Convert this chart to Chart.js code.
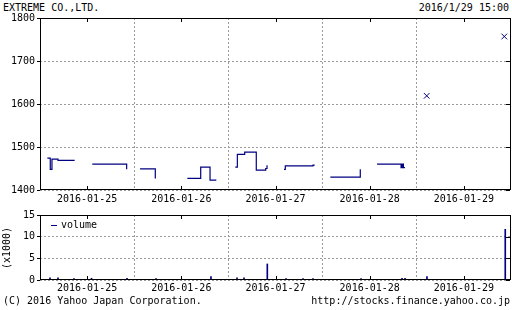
<!DOCTYPE html>
<html><head><meta charset="utf-8">
<script src="https://cdn.jsdelivr.net/npm/chart.js@4/dist/chart.umd.min.js"></script>
<style>
html,body{margin:0;padding:0;background:#fff}
body{width:512px;height:310px;position:relative;overflow:hidden;font-family:"DejaVu Sans Mono",monospace;font-size:10px;color:#000}
.t{position:absolute;white-space:pre;line-height:12px}
canvas{position:absolute;left:0}
</style></head><body>
<div class="t" style="left:3px;top:2px">EXTREME CO.,LTD.</div>
<div class="t" style="right:3px;top:2px">2016/1/29 15:00</div>
<canvas id="c1" width="512" height="207" style="top:0"></canvas>
<canvas id="c2" width="512" height="103" style="top:207px"></canvas>
<div class="t" style="left:1px;top:269px;transform-origin:0 0;transform:rotate(-90deg)">(x1000)</div>
<div class="t" style="left:51px;top:219px"><span style="display:inline-block;width:6px;height:1px;background:#000080;vertical-align:middle;margin-right:4px"></span>volume</div>
<div class="t" style="left:3px;top:295px">(C) 2016 Yahoo Japan Corporation.</div>
<div class="t" style="right:2px;top:295px">http://stocks.finance.yahoo.co.jp</div>
<script>
// ---- data ----
const dayLabels = ['2016-01-25','2016-01-26','2016-01-27','2016-01-28','2016-01-29'];
// time as fractional trading-day index (0 = start of 2016-01-25); null separates gaps
const priceTimes = [0.078,0.109,0.127,0.191,0.368, null,
  0.555,0.920, null,
  1.062,1.224, null,
  1.564,1.706,1.805,1.872, null,
  2.073,2.095,2.173,2.296,2.396,2.410,2.416, null,
  2.590,2.604,2.898,2.916, null,
  3.082,3.400, null,
  3.578,3.833,3.845,3.858,3.875];
const priceValues = [1474,1448,1472,1469,1469, null,
  1460,1448, null,
  1449,1427, null,
  1427,1453,1423,1423, null,
  1453,1483,1488,1446,1450,1456,1456, null,
  1448,1456,1458,1458, null,
  1430,1448, null,
  1460,1452,1460,1452,1452];
const singleTimes = [4.105, 4.929];
const singleValues = [1619, 1757];
const volumeTimes = [0.106,0.191,0.361,0.547,0.924,1.231,1.815,2.091,2.166,2.413,2.611,2.792,2.898,3.408,3.843,3.875,4.108,4.939];
const volumeValues = [0.5,0.5,0.3,0.4,0.4,0.3,0.8,0.5,0.5,3.7,0.3,0.3,0.3,0.3,0.4,0.4,0.8,11.7];
const priceTicks = [1400,1500,1600,1700,1800];
const volumeTicks = [0,5,10,15];

// ---- helpers ----
const NAVY = '#000080';
const FONT = {family:'"DejaVu Sans Mono", monospace', size:10};
const pricePts = priceTimes.map((t,i)=> t===null ? {x:NaN,y:null} : {x:t,y:priceValues[i]});
const singlePts = singleTimes.map((t,i)=>({x:t,y:singleValues[i]}));
const volPts = volumeTimes.map((t,i)=>({x:t,y:volumeValues[i]}));

const framePlugin = {id:'frame', afterDraw(chart){
  const {ctx, chartArea:a, scales} = chart;
  ctx.save(); ctx.strokeStyle='#000'; ctx.lineWidth=1;
  ctx.strokeRect(a.left+0.5, a.top+0.5, a.right-a.left-1, a.bottom-a.top-1);
  ctx.beginPath();
  scales.x.ticks.forEach(t=>{const p=Math.round(scales.x.getPixelForValue(t.value))+0.5;
    ctx.moveTo(p,a.top); ctx.lineTo(p,a.top+4); ctx.moveTo(p,a.bottom); ctx.lineTo(p,a.bottom-4);});
  scales.y.ticks.forEach(t=>{const p=Math.round(scales.y.getPixelForValue(t.value))+0.5;
    ctx.moveTo(a.right-1,p); ctx.lineTo(a.right-5,p);});
  ctx.stroke(); ctx.restore();
}};

function xAxes(pad,h){
  return {
    x:{type:'linear',min:0,max:5,offset:false,
      afterBuildTicks:s=>{s.ticks=dayLabels.map((_,i)=>({value:i+0.5}));},
      ticks:{callback:v=>dayLabels[Math.floor(v)],padding:pad,maxRotation:0,autoSkip:false,font:FONT,color:'#000'},
      grid:{display:false,drawTicks:false,offset:false},border:{display:false},
      afterFit:s=>{s.height=h;}},
    xg:{type:'linear',min:0,max:5,position:'bottom',offset:false,
      afterBuildTicks:s=>{s.ticks=[1,2,3,4].map(v=>({value:v}));},
      ticks:{display:false},grid:{color:'#9a9a9a',drawTicks:false,offset:false},border:{display:false,dash:[2,2]},
      afterFit:s=>{s.height=0;}}
  };
}
function yAxis(min,max,ticks){
  return {type:'linear',min,max,
    afterBuildTicks:s=>{s.ticks=ticks.map(v=>({value:v}));},
    ticks:{font:FONT,color:'#000',padding:2,callback:v=>String(v)},
    grid:{color:'#9a9a9a',tickColor:'#000',tickLength:3},
    border:{display:false,dash:[2,2]},
    afterFit:s=>{s.width=40;}};
}

new Chart(document.getElementById('c1'),{
  data:{datasets:[
    {type:'line',data:pricePts,stepped:true,borderColor:NAVY,borderWidth:1.2,pointRadius:0,spanGaps:false,xAxisID:'x'},
    {type:'line',data:singlePts,showLine:false,pointStyle:'crossRot',pointRadius:4,borderColor:NAVY,pointBorderColor:NAVY,pointBorderWidth:1,xAxisID:'x'}
  ]},
  options:{responsive:false,animation:false,
    layout:{autoPadding:false,padding:{top:18,right:1,left:0,bottom:0}},
    plugins:{legend:{display:false},tooltip:{enabled:false}},
    scales:Object.assign(xAxes(3,17),{y:yAxis(1400,1800,priceTicks)})},
  plugins:[framePlugin]
});

new Chart(document.getElementById('c2'),{
  type:'bar',
  data:{datasets:[{data:volPts,backgroundColor:NAVY,barThickness:1,grouped:false,xAxisID:'x'}]},
  options:{responsive:false,animation:false,
    layout:{autoPadding:false,padding:{top:8,right:1,left:0,bottom:0}},
    plugins:{legend:{display:false},tooltip:{enabled:false}},
    scales:Object.assign(xAxes(2,30),{y:yAxis(0,15,volumeTicks)})},
  plugins:[framePlugin]
});
</script>
</body></html>
